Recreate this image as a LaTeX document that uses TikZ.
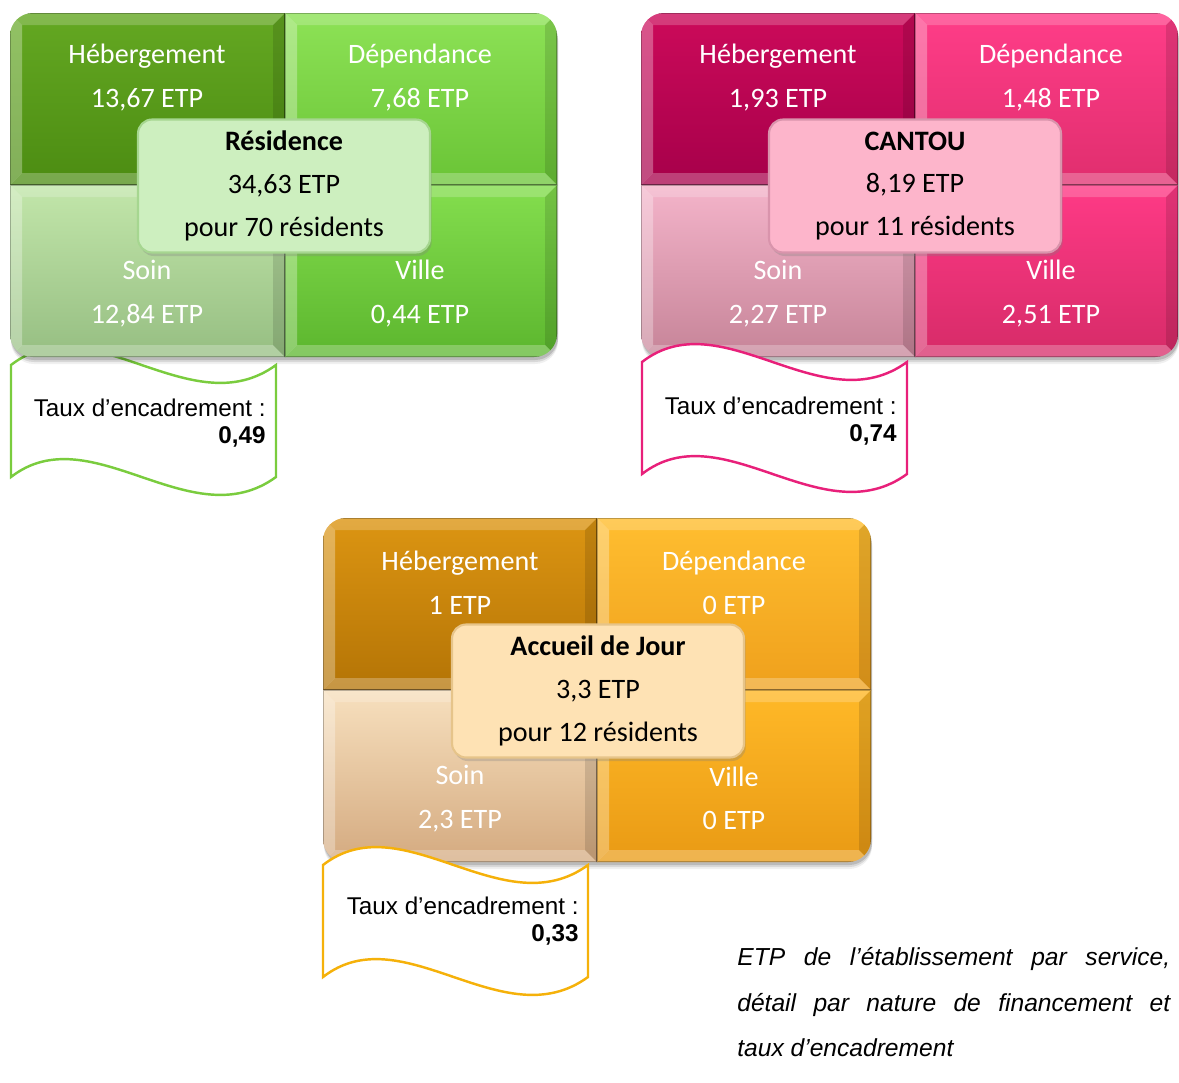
\documentclass[tikz,border=0pt]{standalone}
\usepackage{fontspec}
\setmainfont{Carlito}
\newfontfamily\arial{Liberation Sans}
\usetikzlibrary{shadows}

% Résidence (vert)
\definecolor{vtlA}{HTML}{64A822}\definecolor{vtlB}{HTML}{4C8C12}
\definecolor{vtrA}{HTML}{8DE256}\definecolor{vtrB}{HTML}{6AC436}
\definecolor{vblA}{HTML}{C2E6AA}\definecolor{vblB}{HTML}{96BE82}
\definecolor{vbrA}{HTML}{84DE4E}\definecolor{vbrB}{HTML}{5CB62E}
\definecolor{vFond}{HTML}{CDEFBF}\definecolor{vBord}{HTML}{A6D690}
\definecolor{vTrait}{HTML}{7ACC3E}
% CANTOU (rose)
\definecolor{ptlA}{HTML}{CC0A5A}\definecolor{ptlB}{HTML}{A6004A}
\definecolor{ptrA}{HTML}{FF3D88}\definecolor{ptrB}{HTML}{E02E6E}
\definecolor{pblA}{HTML}{F4B4CA}\definecolor{pblB}{HTML}{C68498}
\definecolor{pbrA}{HTML}{FF3A86}\definecolor{pbrB}{HTML}{D62B68}
\definecolor{pFond}{HTML}{FDB5CB}\definecolor{pBord}{HTML}{D994AC}
\definecolor{pTrait}{HTML}{E8207A}
% Accueil de Jour (orange)
\definecolor{otlA}{HTML}{DC9512}\definecolor{otlB}{HTML}{B47406}
\definecolor{otrA}{HTML}{FFBE30}\definecolor{otrB}{HTML}{EFA01C}
\definecolor{oblA}{HTML}{F7E0BE}\definecolor{oblB}{HTML}{D4AA80}
\definecolor{obrA}{HTML}{FFB928}\definecolor{obrB}{HTML}{E99A14}
\definecolor{oFond}{HTML}{FEE2B4}\definecolor{oBord}{HTML}{E6C48A}
\definecolor{oTrait}{HTML}{F5B10A}

% une case biseautée : x0, y0, x1, y1, couleur haut, couleur bas
\newcommand{\cellule}[6]{%
  \shade[top color=#5, bottom color=#6] (#1,#2) rectangle (#3,#4);
  \fill[white,opacity=.20] (#1,#2) -- (#3,#2) -- (#3-12,#2+12) -- (#1+12,#2+12) -- cycle;
  \fill[white,opacity=.30] (#1,#2) -- (#1+12,#2+12) -- (#1+12,#4-12) -- (#1,#4) -- cycle;
  \fill[black,opacity=.12] (#3,#2) -- (#3,#4) -- (#3-12,#4-12) -- (#3-12,#2+12) -- cycle;
  \fill[white,opacity=.25] (#1,#4) -- (#3,#4) -- (#3-12,#4-12) -- (#1+12,#4-12) -- cycle;
  \draw[black,opacity=.25,line width=.8pt] (#1,#2) rectangle (#3,#4);
}

% un panneau de quatre cases : préfixe, x0, y0, x1, y1, xm, ym
\newcommand{\panneau}[7]{%
  \foreach \d/\o in {7/.06,5/.10,3/.14}
    \fill[black,opacity=\o,rounded corners=13pt] (#2+1,#3+\d) rectangle (#4+1,#5+\d);
  \begin{scope}
    \clip[rounded corners=13pt] (#2,#3) rectangle (#4,#5);
    \cellule{#2}{#3}{#6}{#7}{#1tlA}{#1tlB}
    \cellule{#6}{#3}{#4}{#7}{#1trA}{#1trB}
    \cellule{#2}{#7}{#6}{#5}{#1blA}{#1blB}
    \cellule{#6}{#7}{#4}{#5}{#1brA}{#1brB}
  \end{scope}
}

% bandeau ondulé : x gauche, y haut, couleur
\newcommand{\vague}[3]{%
  \draw[line width=1.4pt, draw=#3, fill=white]
    (#1,#2) .. controls (#1+80,#2-62) and (#1+180,#2+62) .. (#1+265,#2)
    -- (#1+265,#2+112)
    .. controls (#1+180,#2+174) and (#1+80,#2+50) .. (#1,#2+112) -- cycle;
}

\tikzset{
  case/.style={text=white, align=center, font=\fontsize{16}{24.8}\selectfont},
  bulle/.style={rounded corners=8pt, line width=1.2pt, minimum width=5.84cm,
    minimum height=2.66cm, align=center, font=\fontsize{16}{24.4}\selectfont,
    drop shadow={opacity=.3, shadow xshift=1pt, shadow yshift=-2pt}},
  taux/.style={anchor=east, align=right, inner sep=0pt,
    font=\arial\fontsize{13.8}{15.3}\selectfont}
}

\begin{document}
\begin{tikzpicture}[x=0.02cm, y=-0.02cm]
  \useasboundingbox (0,0) rectangle (1179,1082);

  % Résidence
  \vague{11}{365}{vTrait}
  \panneau{v}{10}{13}{557}{357}{285}{185}
  \node[case] (rH) at (147,77.5) {Hébergement\\13,67 ETP};
  \node[case] (rD) at (420,77.5) {Dépendance\\7,68 ETP};
  \node[case] (rS) at (147,293.5) {Soin\\12,84 ETP};
  \node[case] (rV) at (420,293.5) {Ville\\0,44 ETP};
  \node[bulle, fill=vFond, draw=vBord] (rB) at (284,186)
    {\textbf{Résidence}\\34,63 ETP\\pour 70 résidents};
  \node[taux] (rT) at (266,423) {Taux d’encadrement :\\\textbf{0,49}};

  % CANTOU
  \panneau{p}{641}{13}{1178}{357}{915}{185}
  \node[case] (cH) at (778,77.5) {Hébergement\\1,93 ETP};
  \node[case] (cD) at (1051,77.5) {Dépendance\\1,48 ETP};
  \node[case] (cS) at (778,293.5) {Soin\\2,27 ETP};
  \node[case] (cV) at (1051,293.5) {Ville\\2,51 ETP};
  \node[bulle, fill=pFond, draw=pBord] (cB) at (915,186)
    {\textbf{CANTOU}\\8,19 ETP\\pour 11 résidents};
  \vague{642}{362}{pTrait}
  \node[taux] (cT) at (897,421) {Taux d’encadrement :\\\textbf{0,74}};

  % Accueil de Jour
  \panneau{o}{323}{518}{871}{862}{597}{690}
  \node[case] (aH) at (460,583) {Hébergement\\1 ETP};
  \node[case] (aD) at (734,583) {Dépendance\\0 ETP};
  \node[case] (aS) at (460,798.5) {Soin\\2,3 ETP};
  \node[case] (aV) at (734,798.5) {Ville\\0 ETP};
  \node[bulle, fill=oFond, draw=oBord] (aB) at (598,691)
    {\textbf{Accueil de Jour}\\3,3 ETP\\pour 12 résidents};
  \vague{323}{865}{oTrait}
  \node[taux] (aT) at (579,921.5) {Taux d’encadrement :\\\textbf{0,33}};

  % Légende
  \node[anchor=north west, inner sep=0pt, text width=8.66cm, align=justify,
    font=\arial\itshape\fontsize{14}{26}\selectfont] (legende) at (737,947)
    {ETP de l’établissement par service,\linebreak détail par nature de financement et\linebreak taux d’encadrement};
\end{tikzpicture}
\end{document}
